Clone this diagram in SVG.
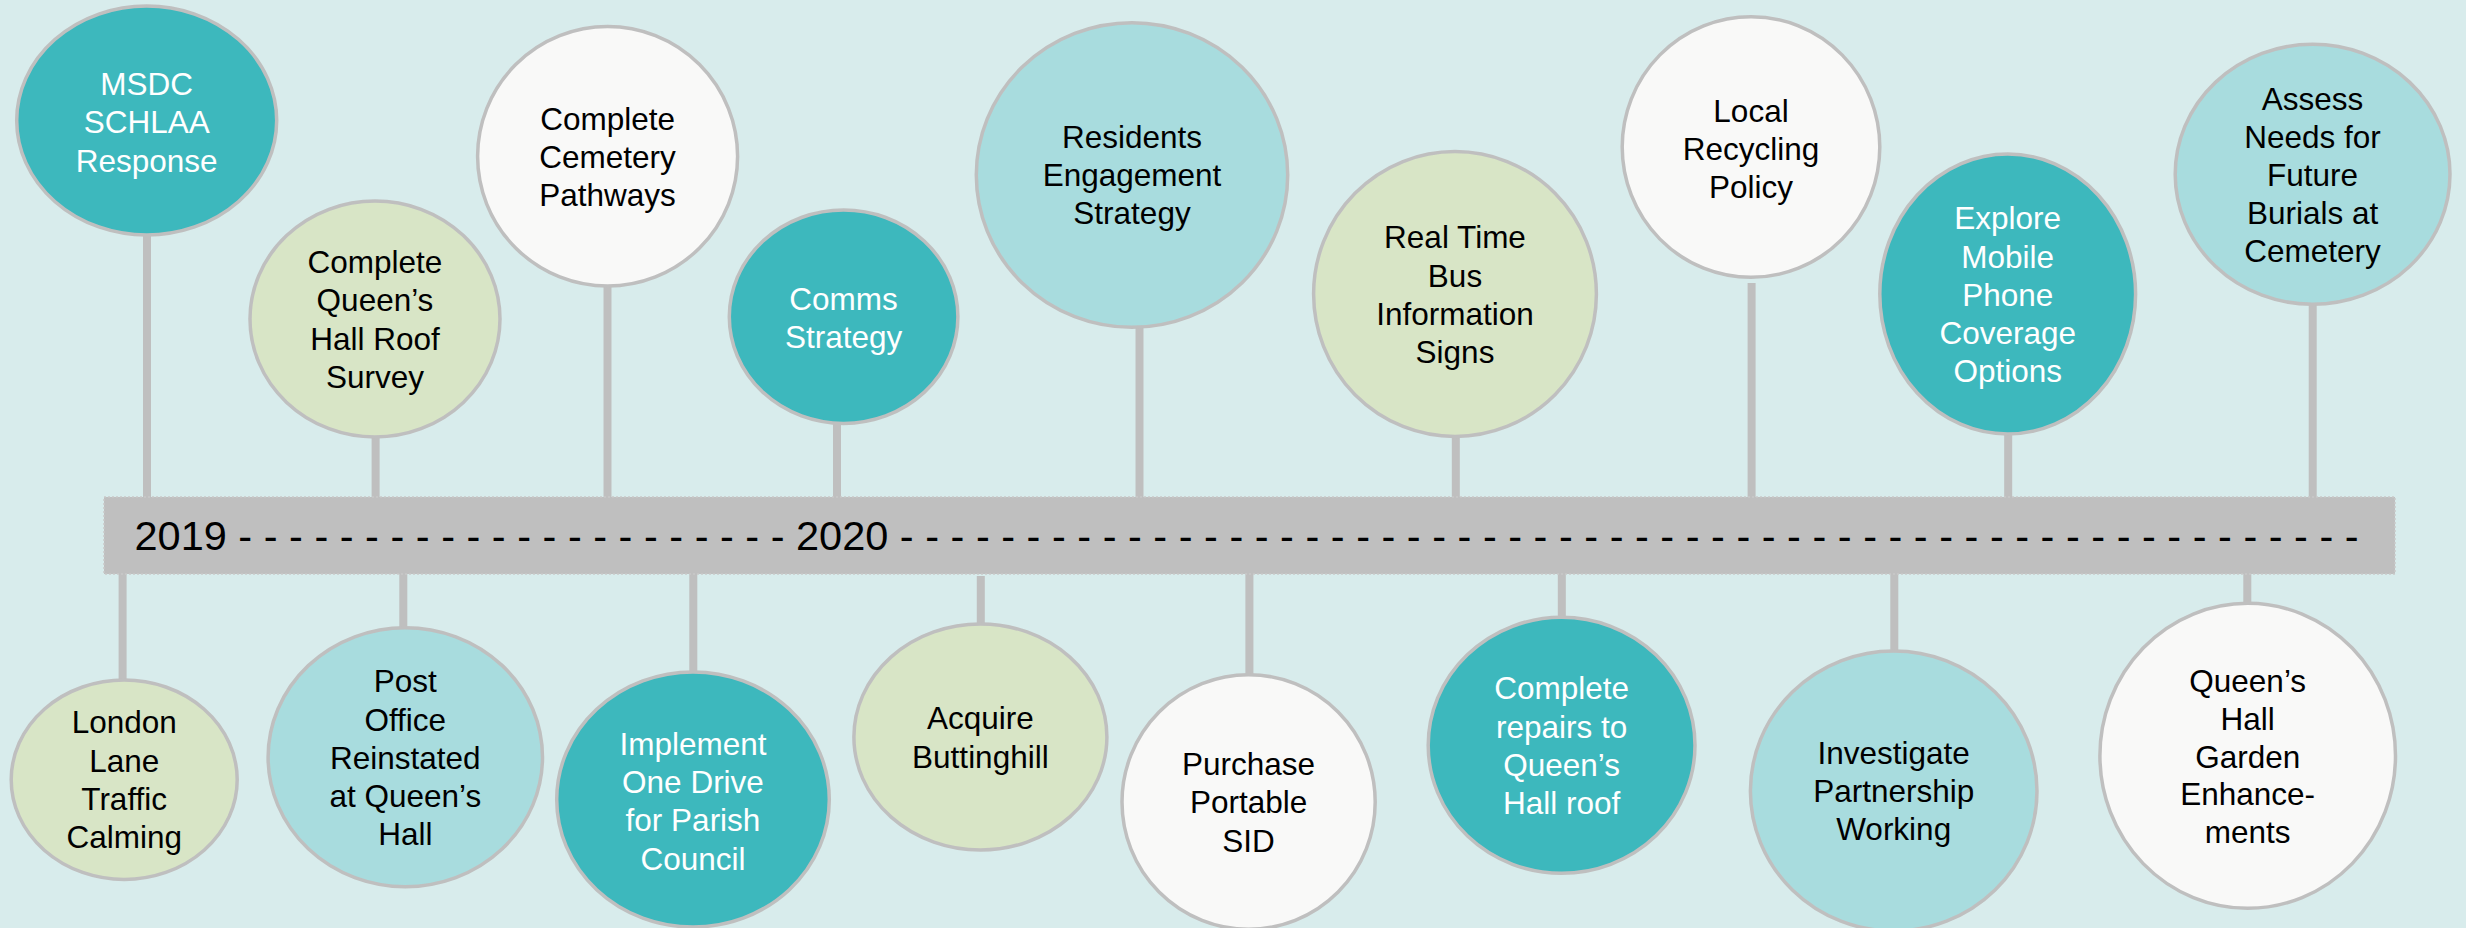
<svg xmlns="http://www.w3.org/2000/svg" width="2466" height="928" viewBox="0 0 2466 928">
<style>
.bg{fill:#D8ECEC}
.node{stroke:#BFBFBF;stroke-width:3.5}
.dark{fill:#3DB8BD}
.light{fill:#A8DCDE}
.green{fill:#D8E5C6}
.white{fill:#F9F9F8}
.conn{stroke:#BFBFBF;stroke-width:8;fill:none}
.t{font-family:"Liberation Sans",Arial,sans-serif;font-size:31.5px;text-anchor:middle;fill:#000}
.tw{fill:#FFFFFF}
.year{font-family:"Liberation Sans",Arial,sans-serif;font-size:41.5px;fill:#000}
</style>
<rect class="bg" x="0" y="0" width="2466" height="928"/>
<g id="connectors">
<line class="conn" x1="147" y1="230" x2="147" y2="498"/>
<line class="conn" x1="375.6" y1="432" x2="375.6" y2="498"/>
<line class="conn" x1="607.5" y1="281" x2="607.5" y2="498"/>
<line class="conn" x1="837" y1="418" x2="837" y2="498"/>
<line class="conn" x1="1139.5" y1="322" x2="1139.5" y2="498"/>
<line class="conn" x1="1455.8" y1="431" x2="1455.8" y2="498"/>
<line class="conn" x1="1751.6" y1="283" x2="1751.6" y2="498"/>
<line class="conn" x1="2008.2" y1="429" x2="2008.2" y2="498"/>
<line class="conn" x1="2312.7" y1="299" x2="2312.7" y2="498"/>
<line class="conn" x1="122.6" y1="573" x2="122.6" y2="685"/>
<line class="conn" x1="403.3" y1="573" x2="403.3" y2="633"/>
<line class="conn" x1="693.3" y1="573" x2="693.3" y2="677"/>
<line class="conn" x1="980.8" y1="576" x2="980.8" y2="629"/>
<line class="conn" x1="1249.4" y1="573" x2="1249.4" y2="680"/>
<line class="conn" x1="1561.8" y1="573" x2="1561.8" y2="622"/>
<line class="conn" x1="1894.3" y1="573" x2="1894.3" y2="656"/>
<line class="conn" x1="2247.3" y1="573" x2="2247.3" y2="608"/>
</g>
<g id="timeline">
<rect x="104" y="497" width="2291" height="77" fill="#BFBFBF" stroke="#C9C9C9" stroke-width="1.5" stroke-dasharray="2 2"/>
<text class="year" x="134.5" y="550">2019 - - - - - - - - - - - - - - - - - - - - - -</text>
<text class="year" x="796" y="550">2020 - - - - - - - - - - - - - - - - - - - - - - - - - - - - - - - - - - - - - - - - - - - - - - - - - - - - - - - - - -</text>
</g>
<g id="n1"><ellipse class="node dark" cx="146.7" cy="120.5" rx="130" ry="114.5"/>
<text class="t tw" x="146.7" y="95"><tspan x="146.7">MSDC</tspan><tspan x="146.7" dy="38.3">SCHLAA</tspan><tspan x="146.7" dy="38.3">Response</tspan></text></g>
<g id="n2"><ellipse class="node green" cx="375" cy="319" rx="125" ry="118"/>
<text class="t" x="375" y="273"><tspan x="375">Complete</tspan><tspan x="375" dy="38.3">Queen’s</tspan><tspan x="375" dy="38.3">Hall Roof</tspan><tspan x="375" dy="38.3">Survey</tspan></text></g>
<g id="n3"><ellipse class="node white" cx="607.6" cy="156.3" rx="130" ry="129.7"/>
<text class="t" x="607.6" y="129.5"><tspan x="607.6">Complete</tspan><tspan x="607.6" dy="38">Cemetery</tspan><tspan x="607.6" dy="38">Pathways</tspan></text></g>
<g id="n4"><ellipse class="node dark" cx="843.6" cy="316.7" rx="114.3" ry="106.7"/>
<text class="t tw" x="843.6" y="310"><tspan x="843.6">Comms</tspan><tspan x="843.6" dy="38">Strategy</tspan></text></g>
<g id="n5"><ellipse class="node light" cx="1132" cy="175" rx="155.7" ry="152.3"/>
<text class="t" x="1132" y="147.7"><tspan x="1132">Residents</tspan><tspan x="1132" dy="38.2">Engagement</tspan><tspan x="1132" dy="38.2">Strategy</tspan></text></g>
<g id="n6"><ellipse class="node green" cx="1455" cy="294" rx="141.4" ry="142.5"/>
<text class="t" x="1455" y="248.3"><tspan x="1455">Real Time</tspan><tspan x="1455" dy="38.3">Bus</tspan><tspan x="1455" dy="38.3">Information</tspan><tspan x="1455" dy="38.3">Signs</tspan></text></g>
<g id="n7"><ellipse class="node white" cx="1751" cy="147" rx="128.8" ry="130.3"/>
<text class="t" x="1751" y="121.7"><tspan x="1751">Local</tspan><tspan x="1751" dy="38">Recycling</tspan><tspan x="1751" dy="38">Policy</tspan></text></g>
<g id="n8"><ellipse class="node dark" cx="2007.7" cy="294" rx="127.9" ry="140"/>
<text class="t tw" x="2007.7" y="229.3"><tspan x="2007.7">Explore</tspan><tspan x="2007.7" dy="38.2">Mobile</tspan><tspan x="2007.7" dy="38.2">Phone</tspan><tspan x="2007.7" dy="38.2">Coverage</tspan><tspan x="2007.7" dy="38.2">Options</tspan></text></g>
<g id="n9"><ellipse class="node light" cx="2312.6" cy="174.3" rx="137.4" ry="130"/>
<text class="t" x="2312.6" y="110"><tspan x="2312.6">Assess</tspan><tspan x="2312.6" dy="38">Needs for</tspan><tspan x="2312.6" dy="38">Future</tspan><tspan x="2312.6" dy="38">Burials at</tspan><tspan x="2312.6" dy="38">Cemetery</tspan></text></g>
<g id="b1"><ellipse class="node green" cx="124.2" cy="779.7" rx="113" ry="99.7"/>
<text class="t" x="124.2" y="733.3"><tspan x="124.2">London</tspan><tspan x="124.2" dy="38.3">Lane</tspan><tspan x="124.2" dy="38.3">Traffic</tspan><tspan x="124.2" dy="38.3">Calming</tspan></text></g>
<g id="b2"><ellipse class="node light" cx="405.3" cy="757.2" rx="137.2" ry="129.5"/>
<text class="t" x="405.3" y="692.3"><tspan x="405.3">Post</tspan><tspan x="405.3" dy="38.2">Office</tspan><tspan x="405.3" dy="38.2">Reinstated</tspan><tspan x="405.3" dy="38.2">at Queen’s</tspan><tspan x="405.3" dy="38.2">Hall</tspan></text></g>
<g id="b3"><ellipse class="node dark" cx="693" cy="799.5" rx="136.3" ry="127.5"/>
<text class="t tw" x="693" y="755"><tspan x="693">Implement</tspan><tspan x="693" dy="38.2">One Drive</tspan><tspan x="693" dy="38.2">for Parish</tspan><tspan x="693" dy="38.2">Council</tspan></text></g>
<g id="b4"><ellipse class="node green" cx="980.4" cy="737" rx="126.5" ry="113"/>
<text class="t" x="980.4" y="729.3"><tspan x="980.4">Acquire</tspan><tspan x="980.4" dy="39">Buttinghill</tspan></text></g>
<g id="b5"><ellipse class="node white" cx="1248.6" cy="802" rx="126.6" ry="127.3"/>
<text class="t" x="1248.6" y="775"><tspan x="1248.6">Purchase</tspan><tspan x="1248.6" dy="38.3">Portable</tspan><tspan x="1248.6" dy="38.3">SID</tspan></text></g>
<g id="b6"><ellipse class="node dark" cx="1561.6" cy="745.3" rx="133.4" ry="128"/>
<text class="t tw" x="1561.6" y="699.3"><tspan x="1561.6">Complete</tspan><tspan x="1561.6" dy="38.2">repairs to</tspan><tspan x="1561.6" dy="38.2">Queen’s</tspan><tspan x="1561.6" dy="38.2">Hall roof</tspan></text></g>
<g id="b7"><ellipse class="node light" cx="1893.7" cy="791" rx="143.3" ry="140"/>
<text class="t" x="1893.7" y="764.3"><tspan x="1893.7">Investigate</tspan><tspan x="1893.7" dy="38">Partnership</tspan><tspan x="1893.7" dy="38">Working</tspan></text></g>
<g id="b8"><ellipse class="node white" cx="2247.7" cy="755.8" rx="147.8" ry="152.5"/>
<text class="t" x="2247.7" y="691.7"><tspan x="2247.7">Queen’s</tspan><tspan x="2247.7" dy="37.9">Hall</tspan><tspan x="2247.7" dy="37.9">Garden</tspan><tspan x="2247.7" dy="37.9">Enhance-</tspan><tspan x="2247.7" dy="37.9">ments</tspan></text></g>
</svg>
